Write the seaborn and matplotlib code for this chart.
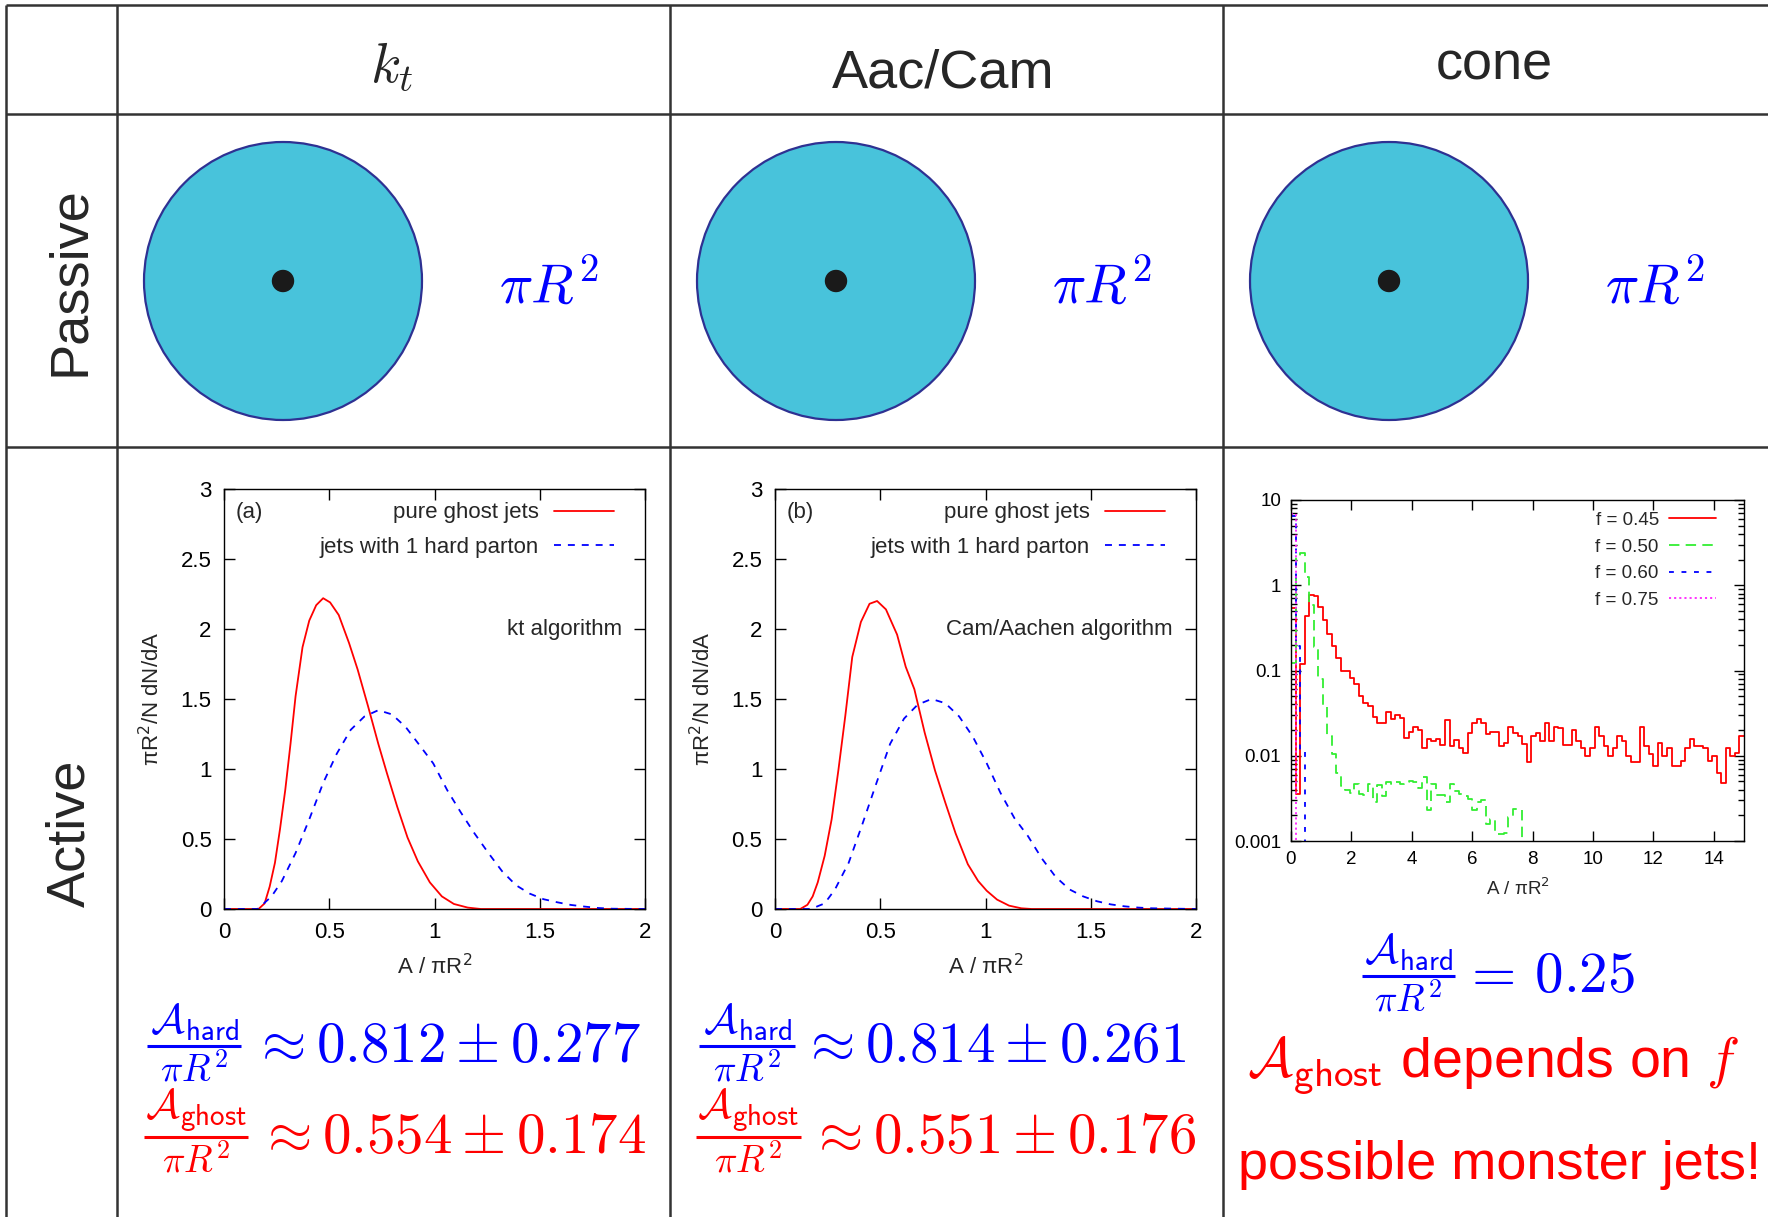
import numpy as np
import matplotlib
matplotlib.use('Agg')
import matplotlib.pyplot as plt
from matplotlib.patches import Circle
from matplotlib.ticker import FormatStrFormatter, LogLocator, NullFormatter
import seaborn as sns

# kt algorithm: area distributions
KT_X_PURE = [0.0, 0.164, 0.193, 0.217, 0.242, 0.266, 0.291, 0.316, 0.340, 0.373, 0.405, 0.438, 0.471,
             0.504, 0.545, 0.594, 0.635, 0.684, 0.733, 0.774, 0.823, 0.872, 0.921, 0.978, 1.035,
             1.092, 1.158, 1.22, 2.0]
KT_Y_PURE = [0.0, 0.0, 0.04, 0.16, 0.33, 0.57, 0.85, 1.18, 1.52, 1.87, 2.06, 2.17, 2.22,
             2.19, 2.10, 1.90, 1.71, 1.45, 1.18, 0.97, 0.73, 0.51, 0.34, 0.19, 0.09,
             0.036, 0.01, 0.0, 0.0]
KT_X_HARD = [0.0, 0.16, 0.226, 0.275, 0.340, 0.405, 0.471, 0.536, 0.602, 0.667, 0.733, 0.798, 0.863,
             0.929, 0.994, 1.060, 1.125, 1.190, 1.256, 1.321, 1.387, 1.452, 1.518, 1.583, 1.648,
             1.714, 1.779, 1.845, 2.0]
KT_Y_HARD = [0.0, 0.0, 0.09, 0.20, 0.40, 0.64, 0.90, 1.11, 1.28, 1.375, 1.42, 1.39, 1.30,
             1.17, 1.04, 0.85, 0.69, 0.54, 0.40, 0.27, 0.17, 0.11, 0.07, 0.048, 0.029,
             0.017, 0.007, 0.002, 0.0]

# Cam/Aachen algorithm
CAM_X_PURE = [0.0, 0.12, 0.154, 0.179, 0.203, 0.236, 0.269, 0.301, 0.334, 0.367, 0.408, 0.449, 0.485,
              0.527, 0.580, 0.621, 0.662, 0.711, 0.760, 0.809, 0.858, 0.916, 0.965, 1.006, 1.055,
              1.112, 1.170, 1.219, 2.0]
CAM_Y_PURE = [0.0, 0.0, 0.03, 0.09, 0.19, 0.38, 0.64, 0.99, 1.38, 1.80, 2.05, 2.18, 2.20,
              2.14, 1.96, 1.73, 1.57, 1.26, 0.99, 0.76, 0.54, 0.32, 0.20, 0.13, 0.067,
              0.024, 0.005, 0.0, 0.0]
CAM_X_HARD = [0.0, 0.17, 0.236, 0.285, 0.350, 0.416, 0.482, 0.547, 0.613, 0.678, 0.744, 0.809, 0.875,
              0.940, 1.006, 1.071, 1.137, 1.202, 1.268, 1.333, 1.399, 1.464, 1.530, 1.595, 1.661,
              1.726, 1.792, 2.0]
CAM_Y_HARD = [0.0, 0.0, 0.04, 0.14, 0.33, 0.61, 0.90, 1.18, 1.36, 1.46, 1.50, 1.47, 1.375,
              1.23, 1.04, 0.83, 0.65, 0.52, 0.36, 0.23, 0.14, 0.09, 0.055, 0.033, 0.019,
              0.010, 0.005, 0.0]

# cone: histograms with bin width 0.15 (bins below 0.001 are empty)
CONE_BIN = 0.15
CONE_F045 = [0.54, 0.0036, 0.12, 0.43, 0.77, 0.74, 0.55, 0.39, 0.27, 0.195,
             0.14, 0.10, 0.098, 0.081, 0.070, 0.050, 0.042, 0.038, 0.0286, 0.024,
             0.024, 0.033, 0.027, 0.030, 0.028, 0.016, 0.019, 0.0215, 0.020, 0.0122,
             0.0156, 0.015, 0.0158, 0.0132, 0.0265, 0.013, 0.0153, 0.0122, 0.0109, 0.0185,
             0.024, 0.027, 0.024, 0.018, 0.019, 0.019, 0.013, 0.014, 0.022, 0.0185,
             0.017, 0.0137, 0.0085, 0.017, 0.0185, 0.0147, 0.024, 0.0147, 0.0218, 0.021,
             0.0135, 0.0135, 0.020, 0.0147, 0.0122, 0.0098, 0.0122, 0.0215, 0.017, 0.013,
             0.0098, 0.0122, 0.017, 0.0147, 0.0098, 0.0085, 0.0085, 0.0215, 0.013, 0.0106,
             0.0075, 0.014, 0.0098, 0.0122, 0.0075, 0.0075, 0.0087, 0.0122, 0.0156, 0.013,
             0.013, 0.0122, 0.0087, 0.0098, 0.0063, 0.0048, 0.0122, 0.0098, 0.0109, 0.017]
CONE_F050 = [0.123, 2.12, 2.37, 1.26, 0.59, 0.19, 0.080, 0.0375, 0.0171, 0.0105,
             0.0062, 0.0044, 0.0040, 0.0037, 0.0046, 0.0036, 0.0035, 0.0047, 0.0029, 0.0045,
             0.0034, 0.0049, 0.0047, 0.0049, 0.0046, 0.0049, 0.0051, 0.0049, 0.0042, 0.0057,
             0.0023, 0.0047, 0.0035, 0.0035, 0.0029, 0.0046, 0.0039, 0.0036, 0.0034, 0.0031,
             0.0023, 0.0029, 0.0030, 0.0016, 0.0018, 0.0012, 0.0012, 0.00124, 0.0019, 0.0024,
             0.0024, 1e-5]
CONE_F060 = [6.5, 0.195, 0.011, 1e-5]
CONE_F075 = [6.8, 1e-5]
CONE_LABELS = ['f = 0.45', 'f = 0.50', 'f = 0.60', 'f = 0.75']

# summary numbers under each plot
FORMULAS = [
    # bar x0, bar x1, bar y, subscript, colour, value x, value text
    (147, 241, 1046, 'hard', 'blue', 252, r'$\approx 0.812 \pm 0.277$'),
    (144, 248, 1137, 'ghost', 'red', 258, r'$\approx 0.554 \pm 0.174$'),
    (699, 795, 1046, 'hard', 'blue', 801, r'$\approx 0.814 \pm 0.261$'),
    (696, 801, 1137, 'ghost', 'red', 809, r'$\approx 0.551 \pm 0.176$'),
    (1362, 1455, 976, 'hard', 'blue', 1462, r'$=\,0.25$'),
]

W, H = 1768, 1217
COL_X = [6, 117, 670, 1223]
ROW_Y = [4.5, 114, 447]
LINE_GRAY = '#333333'

sns.set_theme(style='ticks')
plt.rcParams['font.family'] = ['Liberation Sans', 'DejaVu Sans']
plt.rcParams['lines.scale_dashes'] = False
plt.rcParams['axes.edgecolor'] = 'black'
plt.rcParams['axes.linewidth'] = 1.0
plt.rcParams['xtick.color'] = 'black'
plt.rcParams['ytick.color'] = 'black'


def rect(left, top, right, bottom):
    return [left / W, 1 - bottom / H, (right - left) / W, (bottom - top) / H]


def area_panel(ax, x_pure, y_pure, x_hard, y_hard, tag, algo):
    sns.lineplot(x=x_pure, y=y_pure, ax=ax, color='red', lw=1.3, sort=False,
                 estimator=None, label='pure ghost jets')
    sns.lineplot(x=x_hard, y=y_hard, ax=ax, color='blue', lw=1.3, sort=False,
                 estimator=None, linestyle=(0, (5, 5)), label='jets with 1 hard parton')
    ax.set_xlim(0, 2)
    ax.set_ylim(0, 3)
    ax.set_xticks(np.arange(0, 2.01, 0.5))
    ax.set_yticks(np.arange(0, 3.01, 0.5))
    ax.xaxis.set_major_formatter(FormatStrFormatter('%g'))
    ax.yaxis.set_major_formatter(FormatStrFormatter('%g'))
    ax.tick_params(direction='in', top=True, right=True, length=8, width=1,
                   labelsize=16, pad=9)
    ax.set_xlabel('A / πR$^2$', fontsize=16, labelpad=8)
    ax.set_ylabel('πR$^2$/N dN/dA', fontsize=16, labelpad=12)
    ax.legend(loc='upper right', bbox_to_anchor=(0.958, 1.0), markerfirst=False, frameon=False,
              fontsize=16, handlelength=2.7, handletextpad=0.68, labelspacing=0.6,
              borderpad=0.4, borderaxespad=0.2)
    ax.text(0.028, 0.945, tag, transform=ax.transAxes, fontsize=16, va='center', ha='left')
    ax.text(0.945, 2.0, algo, transform=ax.get_yaxis_transform(), fontsize=16,
            va='center', ha='right')


def formula(x0, x1, bar_y, sub, color, vx, value):
    xc = (x0 + x1) / 2
    bg.hlines(bar_y, x0, x1, color=color, lw=2.2)
    bg.text(xc, bar_y - 3, r'$\mathcal{A}_{\mathsf{%s}}$' % sub, fontsize=30, color=color,
            ha='center', va='bottom', math_fontfamily='cm')
    bg.text(xc, bar_y + 6, r'$\pi R^2$', fontsize=27, color=color,
            ha='center', va='top', math_fontfamily='cm')
    bg.text(vx, bar_y + 16, value, fontsize=41, color=color,
            ha='left', va='baseline', math_fontfamily='cm')


fig = plt.figure(figsize=(W / 100, H / 100), dpi=100)
fig.patch.set_facecolor('white')

# background layer in pixel units: table, circles and formulas
bg = fig.add_axes([0, 0, 1, 1], zorder=0)
bg.set_xlim(0, W)
bg.set_ylim(H, 0)
bg.axis('off')
bg.vlines(COL_X, ROW_Y[0], H + 5, color=LINE_GRAY, lw=1.8)
bg.hlines(ROW_Y, COL_X[0], W + 5, color=LINE_GRAY, lw=1.8)

bg.text(392, 82, r'$k_t$', fontsize=40, ha='center', va='baseline', math_fontfamily='cm')
bg.text(943, 87, 'Aac/Cam', fontsize=39, ha='center', va='baseline')
bg.text(1494, 80, 'cone', fontsize=39, ha='center', va='baseline')
bg.text(70, 281, 'Passive', fontsize=39, rotation=90, ha='center', va='center')
bg.text(70, 833, 'Active', fontsize=39, rotation=90, ha='center', va='center')

for left in COL_X[1:]:
    bg.add_patch(Circle((left + 166, 281), 139, facecolor='#48C3DB', edgecolor='#2E3192', lw=1.6))
    bg.add_patch(Circle((left + 166, 281), 10.5, color='#1a1a1a'))
    bg.text(left + 432, 288, r'$\pi R^2$', fontsize=40, color='blue', ha='center',
            va='center', math_fontfamily='cm')

for item in FORMULAS:
    formula(*item)
bg.text(1493, 1066, r'$\mathcal{A}_{\mathsf{ghost}}$ depends on $f$', fontsize=40, color='red',
        ha='center', va='center', math_fontfamily='cm')
bg.text(1499, 1165, 'possible monster jets!', fontsize=39, color='red', ha='center', va='center')

# active row plots
ax_kt = fig.add_axes(rect(224, 489, 645, 909), zorder=1)
area_panel(ax_kt, KT_X_PURE, KT_Y_PURE, KT_X_HARD, KT_Y_HARD, '(a)', 'kt algorithm')
ax_cam = fig.add_axes(rect(775, 489, 1196, 909), zorder=1)
area_panel(ax_cam, CAM_X_PURE, CAM_Y_PURE, CAM_X_HARD, CAM_Y_HARD, '(b)', 'Cam/Aachen algorithm')

ax_cone = fig.add_axes(rect(1291, 500, 1744, 841), zorder=1)
cone_series = [CONE_F045, CONE_F050, CONE_F060, CONE_F075]
cone_colors = ['red', '#33ee33', 'blue', '#ff22ff']
cone_styles = ['-', (0, (7.5, 4.5)), (0, (3.5, 5.5)), (0, (1.5, 2.2))]
for vals, col, ls, lab in zip(cone_series, cone_colors, cone_styles, CONE_LABELS):
    edges = np.arange(len(vals) + 1) * CONE_BIN
    sns.lineplot(x=edges, y=vals + [vals[-1]], ax=ax_cone, color=col, lw=1.3, linestyle=ls,
                 drawstyle='steps-post', sort=False, estimator=None, label=lab)
ax_cone.set_yscale('log')
ax_cone.set_xlim(0, 15)
ax_cone.set_ylim(0.001, 10)
ax_cone.set_xticks(np.arange(0, 15, 2))
ax_cone.set_yticks([0.001, 0.01, 0.1, 1, 10])
ax_cone.yaxis.set_major_formatter(FormatStrFormatter('%g'))
ax_cone.yaxis.set_minor_locator(LogLocator(base=10, subs=np.arange(2, 10)))
ax_cone.yaxis.set_minor_formatter(NullFormatter())
ax_cone.tick_params(which='both', direction='in', top=True, right=True, width=1,
                    labelsize=13.5)
ax_cone.tick_params(which='major', length=7)
ax_cone.tick_params(axis='y', which='major', pad=7)
ax_cone.tick_params(axis='x', which='major', pad=7)
ax_cone.tick_params(which='minor', length=4)
ax_cone.set_xlabel('A / πR$^2$', fontsize=13.5, labelpad=7)
ax_cone.set_ylabel('')
ax_cone.legend(loc='upper right', bbox_to_anchor=(0.965, 1.0), markerfirst=False, frameon=False,
               fontsize=13.5, handlelength=2.5, handletextpad=0.57, labelspacing=0.51,
               borderpad=0.43, borderaxespad=0.2)

fig.savefig('out.png', dpi=100, facecolor='white')
